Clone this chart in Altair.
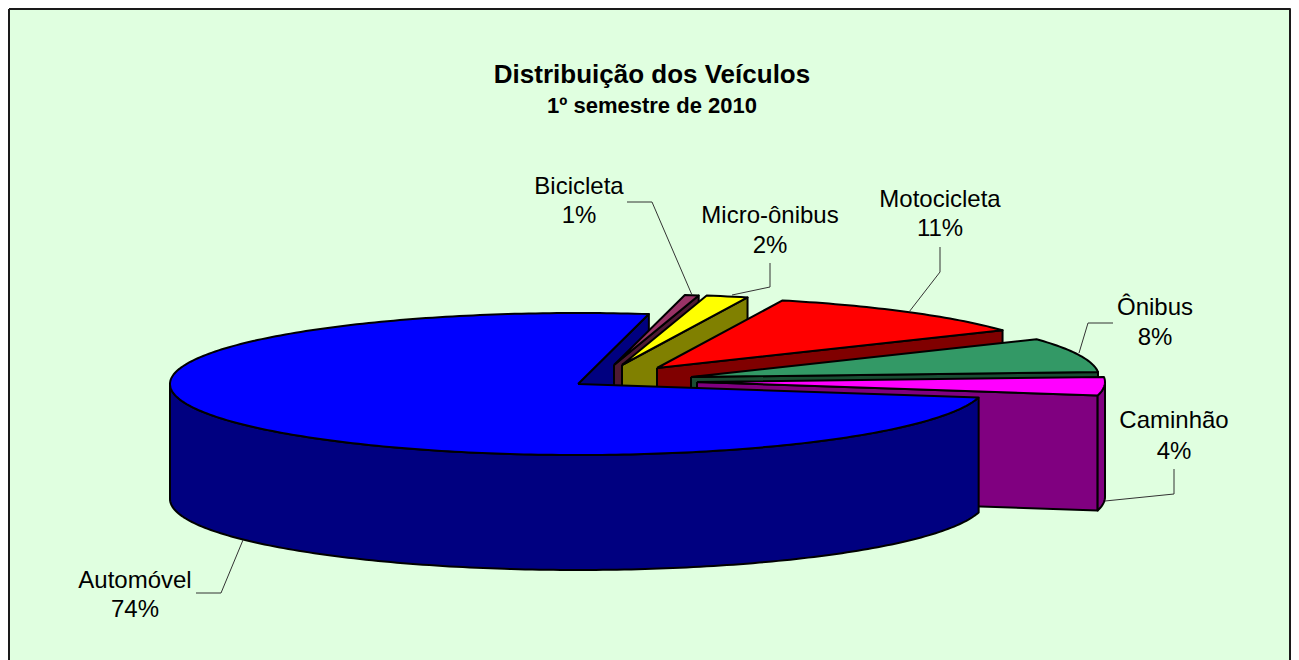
import math
import altair as alt
import pandas as pd

categories = ["Bicicleta", "Micro-ônibus", "Motocicleta", "Ônibus", "Caminhão", "Automóvel"]
shares = [0.55, 1.65, 11.1, 7.8, 4.15, 74.75]
percent_labels = ["1%", "2%", "11%", "8%", "4%", "74%"]

# ---- styling and layout (image pixels) ----
START_DEG = 10.0
RX, RY, DEPTH = 408.0, 71.0, 115.0
APEX = {
    "Bicicleta": (614, 365), "Micro-ônibus": (622, 365), "Motocicleta": (657, 368),
    "Ônibus": (691, 377), "Caminhão": (697, 382), "Automóvel": (578, 384),
}
TOP = {
    "Bicicleta": "#993366", "Micro-ônibus": "#FFFF00", "Motocicleta": "#FF0000",
    "Ônibus": "#339966", "Caminhão": "#FF00FF", "Automóvel": "#0000FF",
}
WALL = {
    "Bicicleta": "#4D1933", "Micro-ônibus": "#808000", "Motocicleta": "#800000",
    "Ônibus": "#1A4D33", "Caminhão": "#800080", "Automóvel": "#000080",
}
LABEL_POS = {
    "Bicicleta": (579, 194, 223), "Micro-ônibus": (770, 223, 253), "Motocicleta": (940, 207, 236),
    "Ônibus": (1155, 315, 345), "Caminhão": (1174, 428, 459), "Automóvel": (135, 588, 617),
}
LEADERS = {
    "Bicicleta": [(692, 295), (652, 202), (627, 202)],
    "Micro-ônibus": [(732, 295), (770, 287), (770, 263)],
    "Motocicleta": [(909, 312), (940, 272), (940, 247)],
    "Ônibus": [(1079, 353), (1088, 323), (1113, 323)],
    "Caminhão": [(1105, 501), (1174, 494), (1174, 469)],
    "Automóvel": [(243, 540), (221, 593), (196, 593)],
}
BG = "#E0FFE0"
W, H = 1283, 652
xs = alt.Scale(domain=[8, 8 + W], range=[0, W])
ys = alt.Scale(domain=[8, 8 + H], range=[0, H])


def rim(name, a_deg):
    ax, ay = APEX[name]
    a = math.radians(a_deg)
    return ax + RX * math.sin(a), ay - RY * math.cos(a)


def arc(name, a0, a1):
    n = max(2, int(abs(a1 - a0)) + 2)
    return [rim(name, a0 + (a1 - a0) * i / (n - 1)) for i in range(n)]


def face(points, fill, stroke="#000000", width=2, close=True):
    pts = list(points) + ([points[0]] if close else [])
    df = pd.DataFrame({"px": [p[0] for p in pts], "py": [p[1] for p in pts], "i": range(len(pts))})
    kw = {"fill": fill} if fill else {}
    return alt.Chart(df).mark_line(stroke=stroke, strokeWidth=width, strokeJoin="round", **kw).encode(
        x=alt.X("px:Q", scale=xs, axis=None),
        y=alt.Y("py:Q", scale=ys, axis=None),
        order="i:Q",
    )


def down(p):
    return p[0], p[1] + DEPTH


spans = {}
cum = START_DEG
for c, s in zip(categories, shares):
    spans[c] = (cum, cum + s * 3.6)
    cum += s * 3.6

layers = [face([(9, 9), (1290, 9), (1290, 670), (9, 670)], BG, stroke="#1a1a1a", width=2)]

# back wall of the large slice
a_end = spans["Automóvel"][1]
apex = APEX["Automóvel"]
rim_pt = rim("Automóvel", a_end)
layers.append(face([apex, rim_pt, down(rim_pt), down(apex)], WALL["Automóvel"]))

for c in categories[:-1]:
    a0, a1 = spans[c]
    apex = APEX[c]
    end = rim(c, a1)
    layers.append(face([apex, end, down(end), down(apex)], WALL[c]))
    if a1 > 90:
        top_arc = arc(c, max(a0, 90), a1)
        layers.append(face(top_arc + [down(p) for p in reversed(top_arc)], WALL[c]))
    layers.append(face([apex] + arc(c, a0, a1), TOP[c]))

# big slice: curved front wall then top
a0, a1 = spans["Automóvel"]
front = arc("Automóvel", a0, 270)
layers.append(face(front + [down(p) for p in reversed(front)], WALL["Automóvel"]))
layers.append(face([APEX["Automóvel"]] + arc("Automóvel", a0, a1), TOP["Automóvel"]))

for c in categories:
    layers.append(face(LEADERS[c], None, stroke="#333333", width=1, close=False))

label_rows = []
for c, p in zip(categories, percent_labels):
    x, y1, y2 = LABEL_POS[c]
    label_rows.append({"px": x, "py": y1, "t": c})
    label_rows.append({"px": x, "py": y2, "t": p})
layers.append(
    alt.Chart(pd.DataFrame(label_rows))
    .mark_text(font="Liberation Sans", fontSize=24, color="#000000", baseline="alphabetic")
    .encode(x=alt.X("px:Q", scale=xs, axis=None), y=alt.Y("py:Q", scale=ys, axis=None), text="t:N")
)
title_rows = pd.DataFrame([
    {"px": 652, "py": 83, "t": "Distribuição dos Veículos", "s": 26},
    {"px": 652, "py": 113, "t": "1º semestre de 2010", "s": 22},
])
for _, r in title_rows.iterrows():
    layers.append(
        alt.Chart(title_rows[title_rows.t == r.t])
        .mark_text(font="Liberation Sans", fontWeight="bold", fontSize=int(r.s), color="#000000", baseline="alphabetic")
        .encode(x=alt.X("px:Q", scale=xs, axis=None), y=alt.Y("py:Q", scale=ys, axis=None), text="t:N")
    )

chart = (
    alt.layer(*layers)
    .properties(width=W, height=H, padding=0, autosize=alt.AutoSizeParams(type="none"), background="#FFFFFF")
    .configure_view(stroke=None)
)
chart.save("out.html", embed_options={"renderer": "svg", "actions": False})
